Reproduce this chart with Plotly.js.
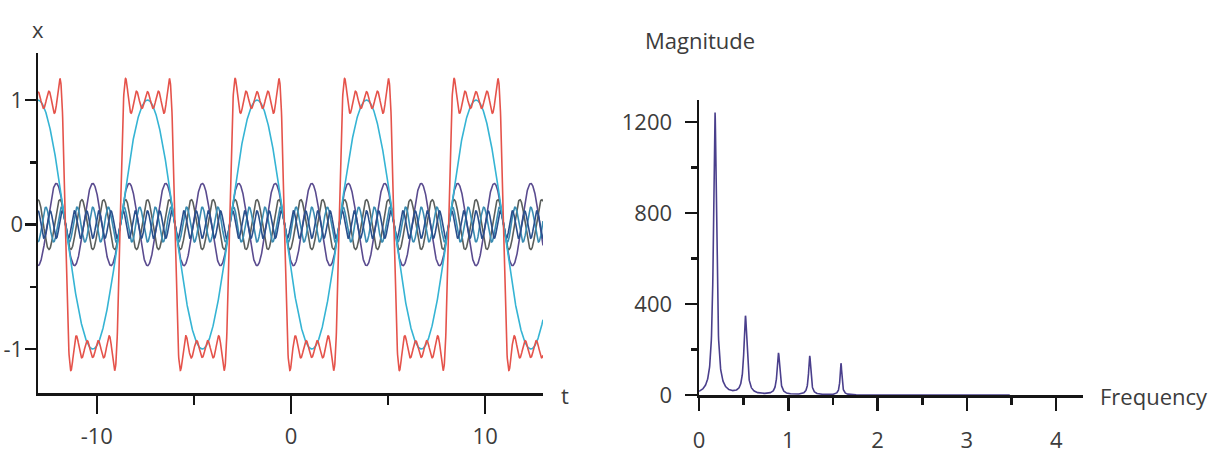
<!DOCTYPE html>
<html>
<head>
<meta charset="utf-8">
<script src="https://cdn.plot.ly/plotly-3.0.1.min.js"></script>
<style>html,body{margin:0;padding:0;background:#fff;}#chart{width:1213px;height:471px;}</style>
</head>
<body>
<div id="chart"></div>
<script>
// ---- Left panel: square wave and its odd harmonics ----
const harmonicOrders = [1, 3, 5, 7, 9];
const harmonicAmps = [1.0, -0.33, 0.2, -0.14, 0.11];   // signed cosine amplitudes
const harmonicColors = ['#35b4d4', '#5a4b8f', '#5b5f5c', '#3a8db3', '#2a4f8c'];
const squarePeriod = 5.64;       // time units
const plateauCenter = -1.75;     // t of a plateau centre
const squareScale = 1.27;        // red partial sum scale
const tStart = -13.03, tEnd = 12.98;
const tTickVals = [-10, 0, 10];
const tTickText = ['-10', '0', '10'];
const xTickVals = [-1, 0, 1];
const xTickText = ['-1', '0', '1'];

// ---- Right panel: magnitude spectrum peaks ----
const peakFreqs = [0.179, 0.52, 0.89, 1.24, 1.59];
const peakMags = [1244, 344, 183, 171, 139];
const peakWidths = [0.02, 0.02, 0.018, 0.015, 0.012];
const freqStart = 0, freqEnd = 3.48;
const magTickVals = [0, 400, 800, 1200];
const freqTickVals = [0, 1, 2, 3, 4];

// sampling grids
const t = [];
for (let v = tStart; v <= tEnd + 1e-9; v += 0.01) t.push(v);
const w = 2 * Math.PI / squarePeriod;
const comps = harmonicOrders.map((k, i) => t.map(tt => harmonicAmps[i] * Math.cos(k * w * (tt - plateauCenter))));
const red = t.map((_, j) => squareScale * comps.reduce((s, c) => s + c[j], 0));

const f = [];
for (let v = freqStart; v <= freqEnd + 1e-9; v += 0.002) f.push(v);
const mag = f.map(ff => peakFreqs.reduce((s, p, i) => {
  const g = peakWidths[i];
  return s + peakMags[i] * g * g / ((ff - p) * (ff - p) + g * g);
}, 0));

const traces = [];
for (let i = 1; i < harmonicOrders.length; i++) {
  traces.push({x: t, y: comps[i], type: 'scatter', mode: 'lines', line: {color: harmonicColors[i], width: 1.6}, xaxis: 'x', yaxis: 'y'});
}
traces.push({x: t, y: comps[0], type: 'scatter', mode: 'lines', line: {color: harmonicColors[0], width: 1.6}, xaxis: 'x', yaxis: 'y'});
traces.push({x: t, y: red, type: 'scatter', mode: 'lines', line: {color: '#e5534b', width: 1.6}, xaxis: 'x', yaxis: 'y'});
traces.push({x: f, y: mag, type: 'scatter', mode: 'lines', line: {color: '#4a3f8c', width: 1.6}, xaxis: 'x2', yaxis: 'y2'});

const W = 1213, H = 471;
const px = v => v / W, py = v => 1 - v / H;
const axisCommon = {showgrid: false, zeroline: false, showline: true, linecolor: '#151515', linewidth: 2.5,
  ticks: 'outside', tickcolor: '#151515', tickwidth: 2.5, fixedrange: true,
  tickfont: {family: 'Open Sans', size: 22, color: '#3c3c3c'}};

const layout = {
  width: W, height: H,
  margin: {l: 0, r: 0, t: 0, b: 0},
  paper_bgcolor: '#fff', plot_bgcolor: 'rgba(0,0,0,0)',
  showlegend: false,
  xaxis: Object.assign({}, axisCommon, {domain: [px(38), px(543)], range: [tStart, tEnd], anchor: 'y',
    tickmode: 'array', tickvals: tTickVals, ticktext: tTickText, ticklen: 18, ticklabelstandoff: 4,
    minor: {dtick: 5, tick0: 0, ticklen: 9, tickwidth: 2.5, tickcolor: '#151515', ticks: 'outside'}}),
  yaxis: Object.assign({}, axisCommon, {domain: [py(393), py(53)], range: [-1.353, 1.378], anchor: 'x',
    tickmode: 'array', tickvals: xTickVals, ticktext: xTickText, ticklen: 11, ticklabelstandoff: -3,
    minor: {dtick: 0.5, tick0: 0, ticklen: 6, tickwidth: 2.5, tickcolor: '#151515', ticks: 'outside'}}),
  xaxis2: Object.assign({}, axisCommon, {domain: [px(699), px(1083)], range: [0, 4.3], anchor: 'y2',
    tickmode: 'array', tickvals: freqTickVals, ticklen: 13, ticklabelstandoff: 11,
    minor: {dtick: 0.5, tick0: 0, ticklen: 7, tickwidth: 2.5, tickcolor: '#151515', ticks: 'outside'}}),
  yaxis2: Object.assign({}, axisCommon, {domain: [py(395), py(100)], range: [0, 1297], anchor: 'x2',
    tickmode: 'array', tickvals: magTickVals, ticklen: 12, ticklabelstandoff: 8,
    minor: {dtick: 200, tick0: 0, ticklen: 6, tickwidth: 2.5, tickcolor: '#151515', ticks: 'outside'}}),
  annotations: [
    {text: 'x', x: px(38), y: py(29), xref: 'paper', yref: 'paper', showarrow: false, xanchor: 'center', yanchor: 'middle', font: {family: 'Open Sans', size: 22, color: '#3c3c3c'}},
    {text: 't', x: px(565), y: py(395), xref: 'paper', yref: 'paper', showarrow: false, xanchor: 'center', yanchor: 'middle', font: {family: 'Open Sans', size: 22, color: '#3c3c3c'}},
    {text: 'Magnitude', x: px(700), y: py(40), xref: 'paper', yref: 'paper', showarrow: false, xanchor: 'center', yanchor: 'middle', font: {family: 'Open Sans', size: 22, color: '#3c3c3c'}},
    {text: 'Frequency', x: px(1210), y: py(396), xref: 'paper', yref: 'paper', showarrow: false, xanchor: 'right', yanchor: 'middle', font: {family: 'Open Sans', size: 22, color: '#3c3c3c'}}
  ]
};

Plotly.newPlot('chart', traces, layout, {staticPlot: true, displayModeBar: false});
</script>
</body>
</html>
